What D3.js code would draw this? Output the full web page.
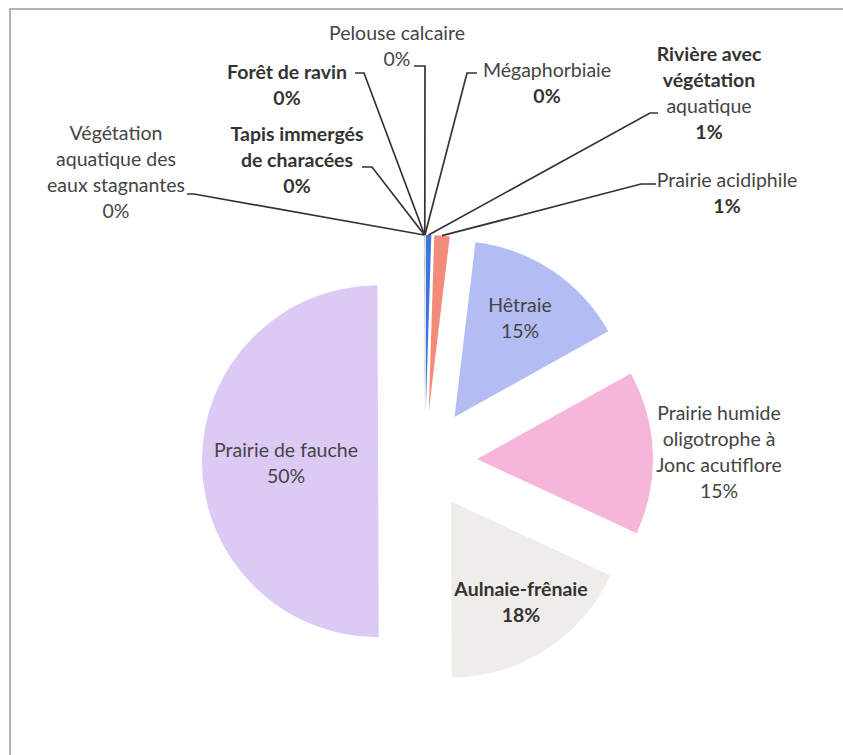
<!DOCTYPE html>
<html>
<head>
<meta charset="utf-8">
<script src="https://cdn.jsdelivr.net/npm/d3@7"></script>
<style>
  body { margin: 0; background: #fff; }
  svg { display: block; font-family: Lato, "Open Sans", sans-serif; }
  .frame { stroke: #9a9a9a; stroke-width: 1.5; fill: none; }
  .slice-label { fill: #444; font-size: 19.5px; }
  .slice-label .b { font-weight: 700; fill: #333; }
  .leader { fill: none; stroke: #333; stroke-width: 1.7; }
</style>
</head>
<body>
<div id="chart"></div>
<script>
// Répartition des habitats (camembert éclaté)
const CATEGORIES = [
  "Rivière avec végétation aquatique",
  "Prairie acidiphile",
  "Hêtraie",
  "Prairie humide oligotrophe à Jonc acutiflore",
  "Aulnaie-frênaie",
  "Prairie de fauche",
  "Végétation aquatique des eaux stagnantes",
  "Tapis immergés de characées",
  "Forêt de ravin",
  "Pelouse calcaire",
  "Mégaphorbiaie",
];
const VALUES = [0.5, 1.4, 15, 15, 18, 50, 0.01, 0.01, 0.01, 0.01, 0.01];
const COLORS = [
  "#3f74dc", "#f38b7a", "#b4bcf4", "#f6b6da", "#efede9", "#dccaf5",
  "#9bbb59", "#4bacc6", "#f79646", "#8064a2", "#c0504d",
];

// Mise en page des étiquettes : lignes, gras, position, coude du trait de rappel
const LABEL_LAYOUT = {
  "Rivière avec végétation aquatique": { lines: ["Rivière avec", "végétation", "aquatique"], bold: [1, 1, 0, 1], x: 709, y: 54, elbow: [[658, 113], [650, 113]] },
  "Prairie acidiphile": { lines: ["Prairie acidiphile"], bold: [0, 1], x: 727, y: 180, elbow: [[656, 184], [641, 184]] },
  "Hêtraie": { lines: ["Hêtraie"], bold: [0, 0], x: 520, y: 305 },
  "Prairie humide oligotrophe à Jonc acutiflore": { lines: ["Prairie humide", "oligotrophe à", "Jonc acutiflore"], bold: [0, 0, 0, 0], x: 719, y: 413 },
  "Aulnaie-frênaie": { lines: ["Aulnaie-frênaie"], bold: [1, 1], x: 521, y: 589 },
  "Prairie de fauche": { lines: ["Prairie de fauche"], bold: [0, 0], x: 286, y: 450 },
  "Végétation aquatique des eaux stagnantes": { lines: ["Végétation", "aquatique des", "eaux stagnantes"], bold: [0, 0, 0, 0], x: 116, y: 133, elbow: [[187, 194], [194, 194]] },
  "Tapis immergés de characées": { lines: ["Tapis immergés", "de characées"], bold: [1, 1, 1], x: 297, y: 134, elbow: [[362, 167], [372, 167]] },
  "Forêt de ravin": { lines: ["Forêt de ravin"], bold: [1, 1], x: 287, y: 72, elbow: [[355, 73], [364, 73]] },
  "Pelouse calcaire": { lines: ["Pelouse calcaire"], bold: [0, 0], x: 397, y: 33, elbow: [[414, 66], [425, 66]] },
  "Mégaphorbiaie": { lines: ["Mégaphorbiaie"], bold: [0, 1], x: 547, y: 70, elbow: [[477, 73], [467, 73]] },
};
// Décalage (éclatement) de chaque part
const EXPLODE = { "Hêtraie": 53, "Prairie humide oligotrophe à Jonc acutiflore": 52, "Aulnaie-frênaie": 48, "Prairie de fauche": 47 };
const DEFAULT_EXPLODE = 50;

const width = 843, height = 755;
const radius = 176;
const cx = 425, cy = 461;
const lineH = 26;

const data = CATEGORIES.map((name, i) => ({ name, value: VALUES[i], color: COLORS[i] }));

const svg = d3.select("#chart").append("svg")
  .attr("width", width).attr("height", height);

// Cadre (scan)
svg.append("path").attr("class", "frame")
  .attr("d", `M10,${height} L10,9 L${width},9`);

const arcs = d3.pie().sort(null).value(d => d.value)(data);
const arc = d3.arc().innerRadius(0).outerRadius(radius);

const dir = a => [Math.sin(a), -Math.cos(a)];

const pieG = svg.append("g").attr("transform", `translate(${cx},${cy})`);

pieG.selectAll("path.slice")
  .data(arcs)
  .join("path")
    .attr("class", "slice")
    .attr("fill", d => d.data.color)
    .attr("transform", d => {
      const m = (d.startAngle + d.endAngle) / 2;
      const off = EXPLODE[d.data.name] ?? DEFAULT_EXPLODE;
      const [ux, uy] = dir(m);
      return `translate(${ux * off},${uy * off})`;
    })
    .attr("d", arc);

// Traits de rappel
const leaders = arcs.filter(d => LABEL_LAYOUT[d.data.name].elbow);
svg.append("g").selectAll("path")
  .data(leaders)
  .join("path")
    .attr("class", "leader")
    .attr("d", d => {
      const m = (d.startAngle + d.endAngle) / 2;
      const off = (EXPLODE[d.data.name] ?? DEFAULT_EXPLODE) + radius;
      const [ux, uy] = dir(m);
      const pts = [...LABEL_LAYOUT[d.data.name].elbow, [cx + ux * off, cy + uy * off]];
      return d3.line()(pts);
    });

// Étiquettes : nom + pourcentage
const labels = svg.append("g").selectAll("text")
  .data(arcs)
  .join("text")
    .attr("class", "slice-label")
    .attr("text-anchor", "middle");

labels.each(function(d) {
  const lay = LABEL_LAYOUT[d.data.name];
  const rows = [...lay.lines, `${Math.round(d.data.value)}%`];
  d3.select(this).selectAll("tspan")
    .data(rows)
    .join("tspan")
      .attr("class", (r, i) => lay.bold[i] ? "b" : null)
      .attr("x", lay.x)
      .attr("y", (r, i) => lay.y + i * lineH)
      .attr("dy", "0.35em")
      .text(r => r);
});
</script>
</body>
</html>
